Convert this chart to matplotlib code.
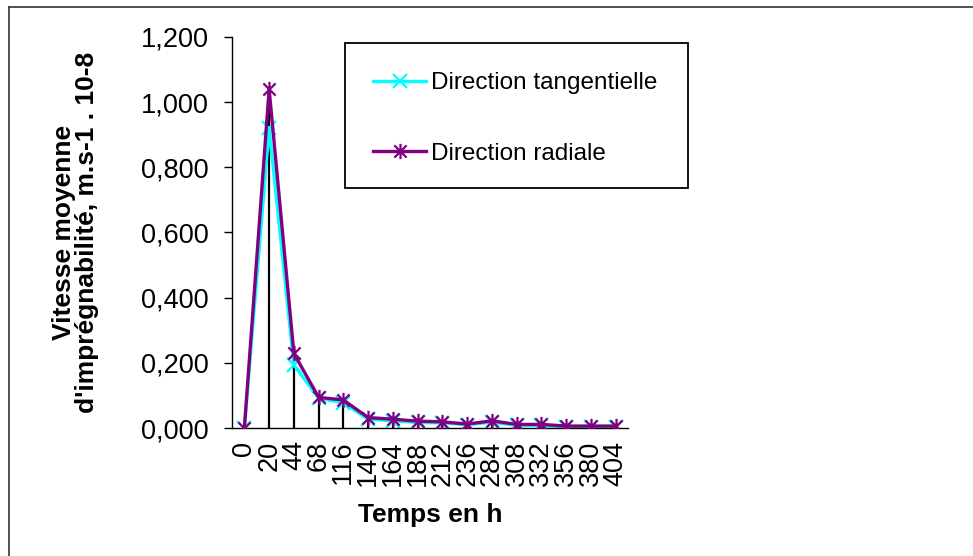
import matplotlib
matplotlib.use("Agg")
import matplotlib.pyplot as plt
import numpy as np
from matplotlib.path import Path
from matplotlib.patches import Rectangle
from matplotlib.lines import Line2D

plt.rcParams['font.family'] = ['Liberation Sans', 'DejaVu Sans']

categories = ["0", "20", "44", "68", "116", "140", "164", "188", "212", "236",
              "284", "308", "332", "356", "380", "404"]
tangentielle = [0.0, 0.92, 0.193, 0.092, 0.077, 0.027, 0.022, 0.017, 0.016, 0.010,
                0.018, 0.008, 0.008, 0.004, 0.004, 0.004]
radiale = [0.0, 1.04, 0.229, 0.094, 0.086, 0.032, 0.027, 0.021, 0.019, 0.012,
           0.022, 0.011, 0.011, 0.006, 0.006, 0.006]
yticks = [0.0, 0.2, 0.4, 0.6, 0.8, 1.0, 1.2]
ytick_labels = ["0,000", "0,200", "0,400", "0,600", "0,800", "1,000", "1,200"]

W, H = 973, 556
fig = plt.figure(figsize=(W / 100, H / 100), dpi=100)
ax = fig.add_axes([232 / W, 1 - 428 / H, (628 - 232) / W, (428 - 37) / H])

x = np.arange(len(categories))
ax.vlines(x, 0, np.maximum(tangentielle, radiale), colors='black', linewidth=1.6, zorder=1)

asterisk = Path([(-1, -1), (1, 1), (-1, 1), (1, -1), (0, -1.25), (0, 1.25)],
                [Path.MOVETO, Path.LINETO, Path.MOVETO, Path.LINETO, Path.MOVETO, Path.LINETO])

ax.plot(x, tangentielle, color='#00FFFF', linewidth=2.4, marker='x', markersize=10,
        markeredgewidth=1.6, zorder=2, label='Direction tangentielle')
ax.plot(x, radiale, color='#800080', linewidth=2.4, marker=asterisk, markersize=11,
        markeredgewidth=1.6, zorder=3, label='Direction radiale')

ax.set_xlim(-0.5, len(categories) - 0.5)
ax.set_ylim(0, 1.2)
ax.set_yticks(yticks)
ax.set_yticklabels(ytick_labels, fontsize=19.5)
ax.set_xticks(x)
ax.set_xticklabels(categories, rotation=90, fontsize=19.5)
ax.tick_params(axis='x', length=0, pad=9)
ax.tick_params(axis='y', length=6, width=1, direction='out', pad=11)
for s in ['top', 'right']:
    ax.spines[s].set_visible(False)
for s in ['left', 'bottom']:
    ax.spines[s].set_linewidth(1.0)
    ax.spines[s].set_color('black')

ax.set_xlabel("Temps en h", fontsize=19, fontweight='bold', labelpad=12)
ax.set_ylabel("Vitesse moyenne\nd'imprégnabilité, m.s-1 . 10-8", fontsize=19,
              fontweight='bold', linespacing=0.95, labelpad=30)

# legend box
fig.patches.append(Rectangle((345 / W, 1 - 188 / H), (688 - 345) / W, (188 - 43) / H,
                             transform=fig.transFigure, fill=False, edgecolor='black',
                             linewidth=1.3))
leg = ax.legend(loc='center left', bbox_to_anchor=(373 / W, 1 - 118.5 / H),
                bbox_transform=fig.transFigure, frameon=False, fontsize=17.5,
                handlelength=2.2, handletextpad=0.2, labelspacing=2.0, borderpad=0,
                borderaxespad=0)

# outer chart border (top and left visible)
fig.add_artist(Line2D([9 / W, 9 / W], [0, 1 - 7 / H], transform=fig.transFigure,
                      color='#333333', linewidth=1.2))
fig.add_artist(Line2D([9 / W, 1], [1 - 7 / H, 1 - 7 / H], transform=fig.transFigure,
                      color='#333333', linewidth=1.2))

fig.savefig("out.png", dpi=100)
